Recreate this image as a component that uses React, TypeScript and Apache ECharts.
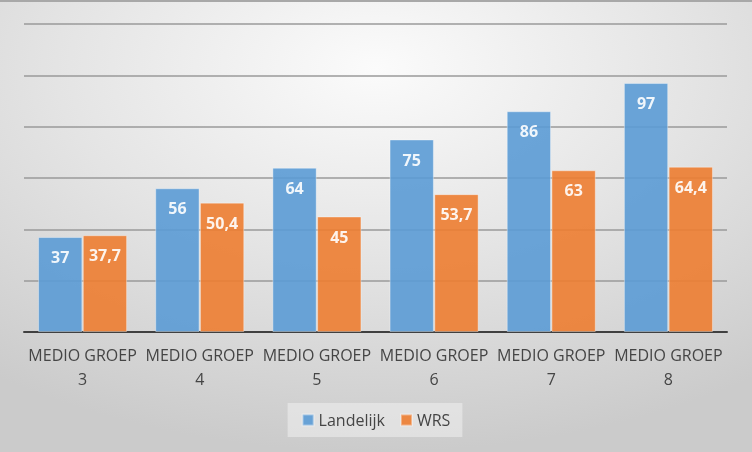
import React, { useEffect, useRef } from "react";
import * as echarts from "echarts";

const categories = ["MEDIO GROEP\n3", "MEDIO GROEP\n4", "MEDIO GROEP\n5", "MEDIO GROEP\n6", "MEDIO GROEP\n7", "MEDIO GROEP\n8"];
const landelijk = [37, 56, 64, 75, 86, 97];
const wrs = [37.7, 50.4, 45, 53.7, 63, 64.4];
const seriesNames = ["Landelijk", "WRS"];

const FONT = "'Open Sans', 'Noto Sans', sans-serif";

export default function App() {
  const ref = useRef<HTMLDivElement>(null);
  useEffect(() => {
    if (!ref.current) return;
    const chart = echarts.init(ref.current, undefined, { renderer: "svg" });
    const labelCfg = {
      show: true,
      position: "insideTop",
      distance: 12,
      color: "#ffffff",
      fontWeight: "bold",
      fontSize: 16,
      fontFamily: FONT,
      formatter: (p: any) => String(p.value).replace(".", ","),
    };
    chart.setOption({
      animation: false,
      graphic: [
        {
          type: "rect",
          z: -10,
          silent: true,
          shape: { x: 0, y: 0, width: 752, height: 452 },
          style: {
            fill: new echarts.graphic.RadialGradient(0.5, 0.15, 0.85, [
              { offset: 0, color: "#fbfbfb" },
              { offset: 0.5, color: "#e4e4e4" },
              { offset: 1, color: "#cbcbcb" },
            ]),
          },
        },
        {
          type: "line",
          z: -9,
          silent: true,
          shape: { x1: 0, y1: 1, x2: 752, y2: 1 },
          style: { stroke: "#a8a8a8", lineWidth: 2 },
        },
      ],
      grid: { left: 24, right: 25, top: 24, bottom: 120, containLabel: false },
      legend: {
        data: seriesNames,
        left: "center",
        top: 403,
        itemWidth: 11,
        itemHeight: 11,
        itemGap: 15,
        icon: "rect",
        backgroundColor: "rgba(240,240,240,0.55)",
        padding: [9, 12, 9, 14],
        textStyle: { fontFamily: FONT, fontSize: 16, color: "#454545", padding: [0, 0, 0, 0] },
      },
      xAxis: {
        type: "category",
        data: categories,
        axisTick: { show: false },
        axisLine: { show: true, lineStyle: { color: "#404040", width: 2 } },
        axisLabel: {
          interval: 0,
          margin: 11,
          fontFamily: FONT,
          fontSize: 16,
          lineHeight: 24,
          color: "#454545",
        },
      },
      yAxis: {
        type: "value",
        min: 0,
        max: 120,
        interval: 20,
        axisLabel: { show: false },
        axisLine: { show: false },
        axisTick: { show: false },
        splitLine: { lineStyle: { color: "#9a9a9a", width: 1.5 } },
      },
      series: [
        {
          name: seriesNames[0],
          type: "bar",
          data: landelijk,
          barGap: "1%",
          barCategoryGap: "24%",
          itemStyle: { color: "#5B9BD5", opacity: 0.9, borderColor: "rgba(255,255,255,0.4)", borderWidth: 1 },
          label: labelCfg,
        },
        {
          name: seriesNames[1],
          type: "bar",
          data: wrs,
          itemStyle: { color: "#ED7D31", opacity: 0.9, borderColor: "rgba(255,255,255,0.4)", borderWidth: 1 },
          label: labelCfg,
        },
      ],
    });
    return () => chart.dispose();
  }, []);
  return (
    <div
      ref={ref}
      style={{ position: "fixed", left: 0, top: 0, width: 752, height: 452 }}
    />
  );
}
